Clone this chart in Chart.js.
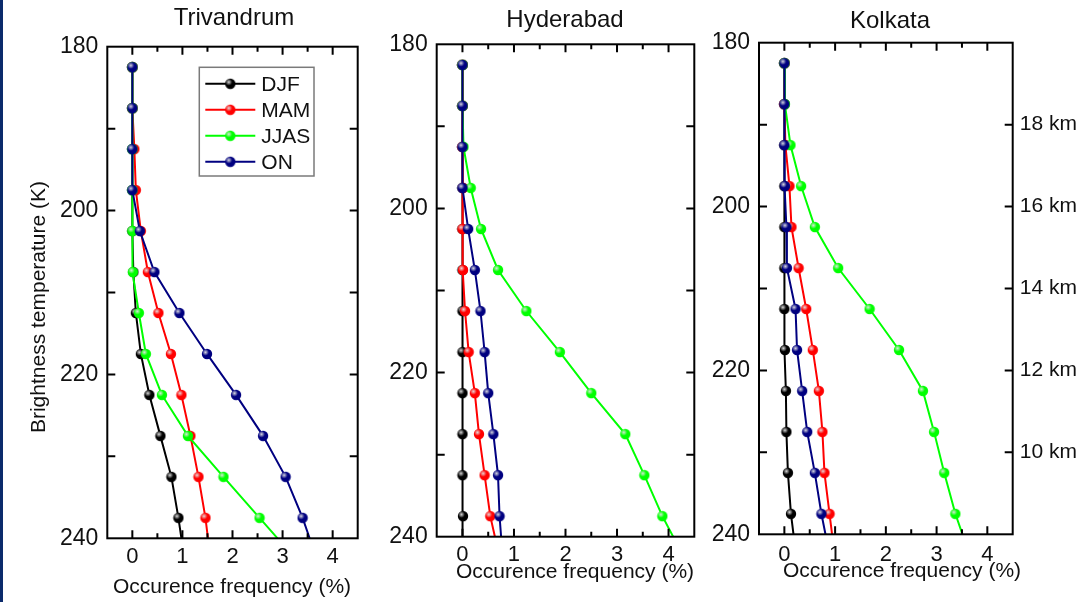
<!DOCTYPE html>
<html>
<head>
<meta charset="utf-8">
<title>Brightness temperature occurrence</title>
<script src="https://cdn.jsdelivr.net/npm/chart.js@4.4.1/dist/chart.umd.min.js"></script>
<style>
  html, body { margin: 0; padding: 0; background: #fff; }
  #wrap { position: relative; width: 1083px; height: 602px; overflow: hidden; background: #fff; }
  #wrap canvas { position: absolute; left: 0; top: 0; }
  #edge { position: absolute; left: 0; top: 0; width: 3px; height: 602px; background: #0b2a6b; }
</style>
</head>
<body>
<div id="wrap">
  <canvas id="trvChart" width="1083" height="602"></canvas>
  <canvas id="hydChart" width="1083" height="602"></canvas>
  <canvas id="kolChart" width="1083" height="602"></canvas>
  <div id="edge"></div>
</div>
<script>
// brightness temperature bins (K), last entry is where the lines leave the frame
const tbBins = [182.5, 187.5, 192.5, 197.5, 202.5, 207.5, 212.5, 217.5, 222.5, 227.5, 232.5, 237.5, 240];
const seasons = ['DJF', 'MAM', 'JJAS', 'ON'];
const seasonColors = ['#000000', '#ff0000', '#00ff00', '#000080'];

const xTicks = [0, 1, 2, 3, 4];
const xMinorTicks = [0.5, 1.5, 2.5, 3.5];
const yLabelTicks = [180, 200, 220, 240];
const yTickMarks = [190, 200, 210, 220, 230];
const kmTicks = [190, 200, 210, 220, 230];
const kmLabels = ['18 km', '16 km', '14 km', '12 km', '10 km'];

// Trivandrum
const trvDJF  = [0, 0, 0, 0, 0, 0.02, 0.07, 0.17, 0.34, 0.56, 0.78, 0.92, 0.98];
const trvMAM  = [0, 0, 0.04, 0.07, 0.17, 0.31, 0.52, 0.77, 0.98, 1.16, 1.32, 1.46, 1.51];
const trvJJAS = [0, 0, 0, 0, 0, 0.01, 0.13, 0.27, 0.59, 1.11, 1.82, 2.54, 2.90];
const trvON   = [0, 0, 0, 0, 0.15, 0.44, 0.94, 1.49, 2.07, 2.61, 3.06, 3.40, 3.54];

// Hyderabad
const hydDJF  = [0, 0, 0, 0, 0, 0, 0, 0, 0, 0, 0, 0.01, 0.01];
const hydMAM  = [0, 0, 0, 0.01, 0, 0.01, 0.05, 0.12, 0.24, 0.32, 0.43, 0.54, 0.63];
const hydJJAS = [0, 0, 0.02, 0.16, 0.36, 0.69, 1.24, 1.89, 2.50, 3.16, 3.53, 3.88, 4.09];
const hydON   = [0, 0, 0, 0, 0.11, 0.24, 0.35, 0.43, 0.50, 0.60, 0.69, 0.72, 0.75];

// Kolkata
const kolDJF  = [0, 0, 0, 0, 0, 0, 0, 0.01, 0.03, 0.04, 0.07, 0.13, 0.18];
const kolMAM  = [0, 0, 0.02, 0.10, 0.14, 0.28, 0.43, 0.56, 0.68, 0.75, 0.79, 0.89, 0.94];
const kolJJAS = [0, 0.01, 0.12, 0.33, 0.60, 1.06, 1.68, 2.26, 2.73, 2.95, 3.15, 3.37, 3.51];
const kolON   = [0, 0, 0, 0.01, 0.04, 0.05, 0.22, 0.25, 0.35, 0.45, 0.60, 0.73, 0.81];

const FONT = "'Liberation Sans', Arial, Helvetica, sans-serif";

// shaded ball marker like the original plotting program
function ballImage(color) {
  const c = document.createElement('canvas');
  c.width = 12;
  c.height = 12;
  const g = c.getContext('2d');
  g.beginPath();
  g.arc(6, 6, 5.2, 0, Math.PI * 2);
  g.fillStyle = color;
  g.fill();
  const grad = g.createRadialGradient(4.5, 4.3, 0, 4.5, 4.3, 3.4);
  grad.addColorStop(0, 'rgba(230,230,230,0.95)');
  grad.addColorStop(1, 'rgba(230,230,230,0)');
  g.fillStyle = grad;
  g.beginPath();
  g.arc(6, 6, 5.2, 0, Math.PI * 2);
  g.fill();
  return c;
}
const balls = seasonColors.map(ballImage);

// frame, inward ticks, free text and legend
const framePlugin = {
  id: 'frame',
  afterDraw(chart, args, opts) {
    const { ctx, chartArea: a, scales: { x, y } } = chart;
    ctx.save();
    ctx.strokeStyle = '#000';
    ctx.lineWidth = 2;
    ctx.strokeRect(a.left, a.top, a.right - a.left, a.bottom - a.top);
    ctx.beginPath();
    const xTick = (v, len) => {
      const px = x.getPixelForValue(v);
      ctx.moveTo(px, a.bottom); ctx.lineTo(px, a.bottom - len);
      ctx.moveTo(px, a.top); ctx.lineTo(px, a.top + len);
    };
    xTicks.forEach(v => xTick(v, 8));
    xMinorTicks.forEach(v => xTick(v, 5));
    yTickMarks.forEach(v => {
      const py = y.getPixelForValue(v);
      ctx.moveTo(a.left, py); ctx.lineTo(a.left + 8, py);
      ctx.moveTo(a.right, py); ctx.lineTo(a.right - 8, py);
    });
    ctx.stroke();

    ctx.fillStyle = '#111';
    (opts.texts || []).forEach(t => {
      ctx.save();
      ctx.font = t.size + 'px ' + FONT;
      ctx.textAlign = 'center';
      ctx.textBaseline = 'alphabetic';
      ctx.translate(t.x, t.y);
      if (t.rot) ctx.rotate(t.rot * Math.PI / 180);
      ctx.fillText(t.text, 0, 0);
      ctx.restore();
    });

    const L = opts.legend;
    if (L) {
      ctx.strokeStyle = '#7a7a7a';
      ctx.lineWidth = 1.5;
      ctx.strokeRect(L.left, L.top, L.width, L.height);
      ctx.font = '21px ' + FONT;
      ctx.textAlign = 'left';
      ctx.textBaseline = 'alphabetic';
      chart.data.datasets.forEach((ds, i) => {
        const ry = L.top + L.first + i * L.step;
        ctx.strokeStyle = ds.borderColor;
        ctx.lineWidth = 2;
        ctx.beginPath();
        ctx.moveTo(L.left + 6, ry);
        ctx.lineTo(L.left + 56, ry);
        ctx.stroke();
        ctx.drawImage(ds.pointStyle, L.left + 31 - 6, ry - 6);
        ctx.fillStyle = '#111';
        ctx.fillText(ds.label, L.left + 62, ry + 7.5);
      });
    }
    ctx.restore();
  }
};

function makeDatasets(series) {
  return series.map((vals, i) => ({
    label: seasons[i],
    data: vals.map((v, k) => ({ x: v, y: tbBins[k] })),
    borderColor: seasonColors[i],
    backgroundColor: seasonColors[i],
    borderWidth: 2,
    showLine: true,
    pointStyle: balls[i],
    pointRadius: c => (c.dataIndex === tbBins.length - 1 ? 0 : 5),
    order: series.length - 1 - i,
    clip: 0
  }));
}

function makeChart(id, series, padding, tickPad, plugOpts, withKm) {
  const scales = {
    x: {
      type: 'linear', min: -0.5, max: 4.5,
      grid: { display: false, drawTicks: false },
      border: { display: false },
      afterBuildTicks: s => { s.ticks = xTicks.map(v => ({ value: v })); },
      afterFit: s => { s.height = 40; },
      ticks: { font: { family: FONT, size: 22, lineHeight: 1.2 }, color: '#111', padding: tickPad, maxRotation: 0 }
    },
    y: {
      type: 'linear', position: 'left', reverse: true, min: 180, max: 240,
      grid: { display: false, drawTicks: false },
      border: { display: false },
      afterBuildTicks: s => { s.ticks = yLabelTicks.map(v => ({ value: v })); },
      afterFit: s => { s.width = 60; },
      ticks: { font: { family: FONT, size: 23, lineHeight: 1.2 }, color: '#111', padding: 9 }
    }
  };
  if (withKm) {
    scales.y2 = {
      type: 'linear', position: 'right', reverse: true, min: 180, max: 240,
      grid: { display: false, drawTicks: false },
      border: { display: false },
      afterBuildTicks: s => { s.ticks = kmTicks.map(v => ({ value: v })); },
      afterFit: s => { s.width = 70; },
      ticks: {
        font: { family: FONT, size: 21, lineHeight: 1.2 }, color: '#111', padding: 7,
        callback: (v, i) => kmLabels[i]
      }
    };
  }
  return new Chart(document.getElementById(id).getContext('2d'), {
    type: 'scatter',
    data: { datasets: makeDatasets(series) },
    options: {
      responsive: false,
      animation: false,
      events: [],
      layout: { padding },
      scales,
      plugins: {
        legend: { display: false },
        tooltip: { enabled: false },
        frame: plugOpts
      }
    },
    plugins: [framePlugin]
  });
}

makeChart('trvChart', [trvDJF, trvMAM, trvJJAS, trvON],
  { left: 47.3, right: 725.3, top: 46.7, bottom: 23.7 }, 5,
  {
    texts: [
      { text: 'Trivandrum', x: 234, y: 25, size: 24 },
      { text: 'Occurence frequency (%)', x: 232, y: 593, size: 21 },
      { text: 'Brightness temperature (K)', x: 45, y: 307, size: 21, rot: -90 }
    ],
    legend: { left: 199.3, top: 67.3, width: 114.7, height: 108.7, first: 16.5, step: 26 }
  }, false);

makeChart('hydChart', [hydDJF, hydMAM, hydJJAS, hydON],
  { left: 376.7, right: 388.7, top: 44.3, bottom: 25.3 }, 5,
  {
    texts: [
      { text: 'Hyderabad', x: 565, y: 27, size: 24 },
      { text: 'Occurence frequency (%)', x: 575, y: 578, size: 21 }
    ]
  }, false);

makeChart('kolChart', [kolDJF, kolMAM, kolJJAS, kolON],
  { left: 699, right: 0.3, top: 42.7, bottom: 27.7 }, 7,
  {
    texts: [
      { text: 'Kolkata', x: 890, y: 28, size: 24 },
      { text: 'Occurence frequency (%)', x: 902, y: 577, size: 21 }
    ]
  }, true);
</script>
</body>
</html>
